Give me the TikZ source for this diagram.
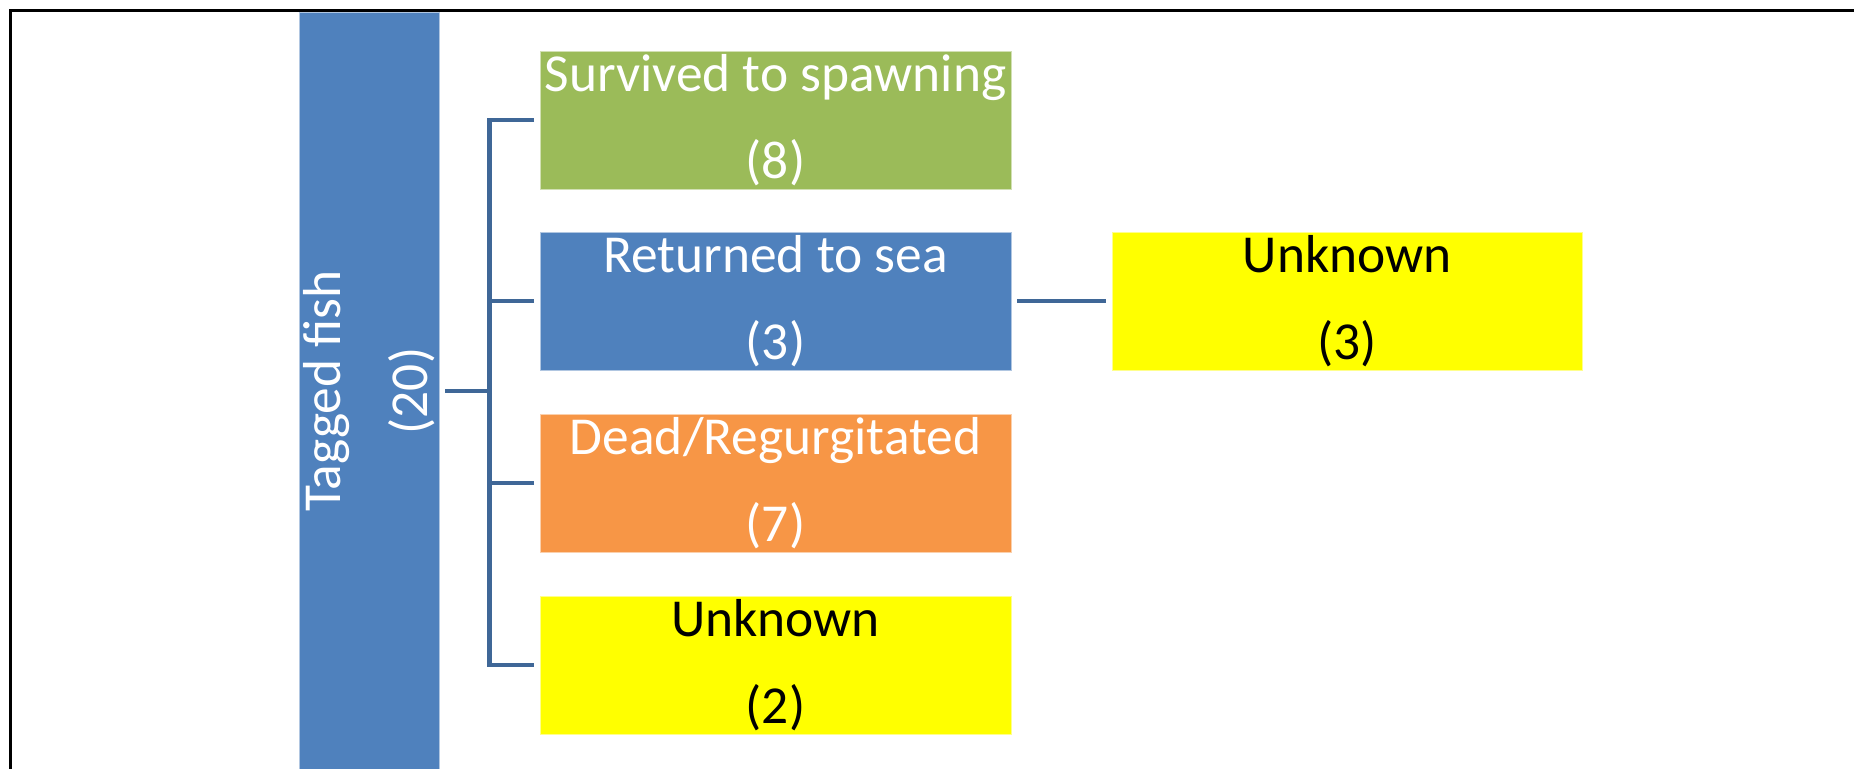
\documentclass[tikz,border=0pt]{standalone}
\usepackage{fontspec}
\setmainfont{Carlito}
\definecolor{boxblue}{HTML}{4F81BD}
\definecolor{boxgreen}{HTML}{9BBB59}
\definecolor{boxorange}{HTML}{F79646}
\definecolor{boxyellow}{HTML}{FFFF00}
\definecolor{linkblue}{HTML}{3F6797}
\tikzset{
  box/.style={rectangle, minimum width=235.5pt, minimum height=69pt, inner sep=0pt,
    outer sep=3pt, align=center, font=\fontsize{26.7}{43.2}\selectfont, draw=white!55!#1, line width=0.5pt, fill=#1},
  whitetext/.style={text=white},
  blacktext/.style={text=black},
  link/.style={draw=linkblue, line width=2.3pt},
  frame/.style={draw=black, line width=1.3pt}
}
\begin{document}
\begin{tikzpicture}[x=0.5pt,y=-0.5pt]
\useasboundingbox (0,0) rectangle (1854,768);
\begin{scope}
\clip (0,0) rectangle (1854,768);
\draw[frame] (10.7,10.7) rectangle (1900,820);
\node[box=boxblue, whitetext, rotate=90, minimum width=379pt, minimum height=70pt] (tag) at (369,391) {Tagged fish\\(20)};
\end{scope}
\node[box=boxgreen, whitetext] (g) at (775.5,120) {Survived to spawning\\(8)};
\node[box=boxblue, whitetext] (r) at (775.5,301) {Returned to sea\\(3)};
\node[box=boxorange, whitetext] (d) at (775.5,483) {Dead/Regurgitated\\(7)};
\node[box=boxyellow, blacktext] (u2) at (775.5,665) {Unknown\\(2)};
\node[box=boxyellow, blacktext, minimum width=235pt] (u3) at (1347.3,301) {Unknown\\(3)};
\coordinate (bus) at (489.5,391);
\draw[link] (tag.south) -- (bus);
\draw[link] (g.west) -| (bus) |- (u2.west);
\draw[link] (r.west) -- (bus |- r.west);
\draw[link] (d.west) -- (bus |- d.west);
\draw[link] (r.east) -- (u3.west);
\end{tikzpicture}
\end{document}
